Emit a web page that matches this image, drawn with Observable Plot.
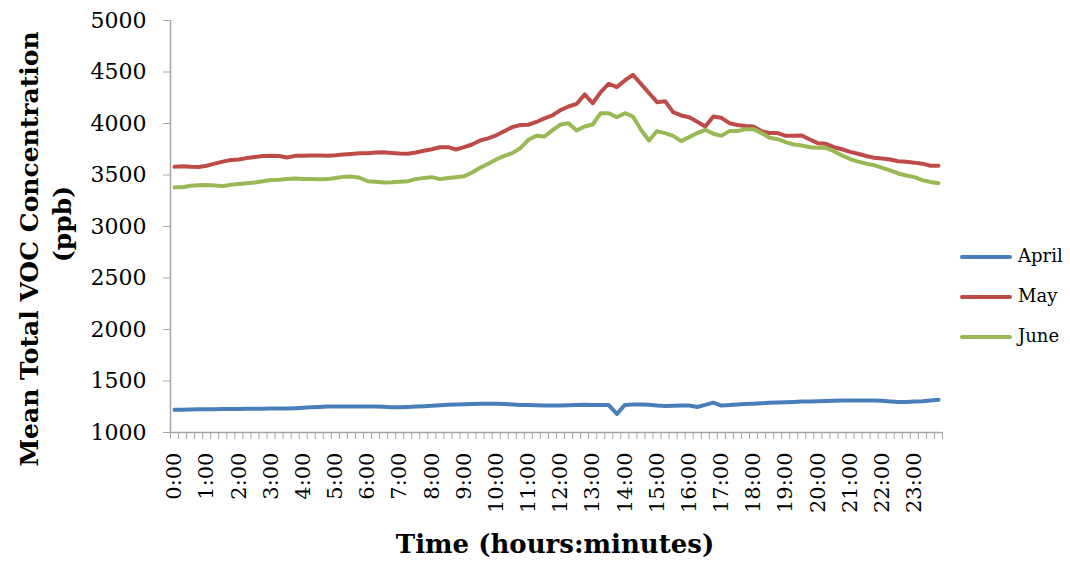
<!DOCTYPE html>
<html>
<head>
<meta charset="utf-8">
<script src="https://cdn.jsdelivr.net/npm/d3@7"></script>
<script src="https://cdn.jsdelivr.net/npm/@observablehq/plot@0.6"></script>
<style>
  html, body { margin: 0; padding: 0; background: #fff; }
  #wrap { position: relative; width: 1070px; height: 563px; font-family: "DejaVu Serif", serif; color: #000; }
  #wrap svg { position: absolute; left: 0; top: 0; }
  .ttl { position: absolute; white-space: nowrap; font-weight: bold; font-size: 25px; line-height: 1; transform: translate(-50%, -50%); }
  .rot { transform: translate(-50%, -50%) rotate(-90deg); }
  .leg { position: absolute; left: 960px; font-size: 18px; line-height: 1; }
  .leg .sw { position: absolute; left: 0; width: 52px; height: 4px; border-radius: 2px; top: -2px; }
  .leg .lb { position: absolute; left: 58px; top: -10px; white-space: nowrap; }
</style>
</head>
<body>
<div id="wrap"></div>
<script>
const times = ["0:00","0:15","0:30","0:45","1:00","1:15","1:30","1:45","2:00","2:15","2:30","2:45",
"3:00","3:15","3:30","3:45","4:00","4:15","4:30","4:45","5:00","5:15","5:30","5:45",
"6:00","6:15","6:30","6:45","7:00","7:15","7:30","7:45","8:00","8:15","8:30","8:45",
"9:00","9:15","9:30","9:45","10:00","10:15","10:30","10:45","11:00","11:15","11:30","11:45",
"12:00","12:15","12:30","12:45","13:00","13:15","13:30","13:45","14:00","14:15","14:30","14:45",
"15:00","15:15","15:30","15:45","16:00","16:15","16:30","16:45","17:00","17:15","17:30","17:45",
"18:00","18:15","18:30","18:45","19:00","19:15","19:30","19:45","20:00","20:15","20:30","20:45",
"21:00","21:15","21:30","21:45","22:00","22:15","22:30","22:45","23:00","23:15","23:30","23:45"];

const april = [1220,1222,1224,1225,1226,1226,1227,1228,1229,1230,1230,1231,1232,1232,1233,1236,1240,1244,1248,1252,
1252,1252,1252,1252,1253,1252,1250,1246,1245,1248,1252,1256,1260,1265,1270,1272,1274,1276,1278,1278,
1278,1276,1272,1268,1268,1265,1262,1262,1263,1265,1268,1270,1268,1268,1266,1180,1268,1272,1272,1270,
1262,1258,1260,1262,1262,1248,1268,1290,1262,1266,1272,1276,1280,1284,1288,1291,1294,1297,1300,1302,
1304,1306,1308,1310,1311,1311,1311,1311,1308,1302,1296,1296,1300,1304,1310,1317];

const may = [3580,3585,3580,3578,3590,3610,3630,3645,3650,3665,3675,3685,3686,3685,3670,3686,3688,3690,3690,3688,
3692,3698,3705,3710,3712,3718,3720,3714,3708,3706,3718,3735,3750,3770,3770,3748,3770,3796,3835,3855,
3885,3925,3965,3985,3988,4015,4050,4080,4130,4165,4190,4282,4197,4304,4386,4353,4418,4473,4385,4296,
4207,4217,4110,4078,4061,4016,3971,4068,4055,4003,3985,3975,3971,3926,3907,3907,3880,3882,3884,3845,
3809,3803,3770,3750,3725,3706,3685,3667,3660,3650,3634,3628,3620,3610,3590,3589];

const june = [3380,3382,3395,3400,3402,3398,3392,3405,3412,3420,3428,3440,3452,3455,3460,3465,3462,3460,3458,3460,
3470,3482,3486,3473,3440,3435,3427,3430,3435,3440,3460,3472,3479,3460,3470,3478,3487,3525,3570,3610,
3650,3686,3712,3760,3842,3880,3874,3935,3990,4003,3932,3971,3990,4100,4100,4061,4100,4068,3939,3835,
3926,3907,3880,3829,3868,3907,3939,3900,3880,3926,3926,3945,3945,3907,3861,3848,3819,3796,3787,3770,
3764,3764,3731,3690,3655,3630,3610,3595,3570,3545,3515,3495,3479,3450,3432,3420];

const months = ["April", "May", "June"];
const monthColors = ["#4A7EBB", "#BE4B48", "#98B954"];
const yTicks = [1000, 1500, 2000, 2500, 3000, 3500, 4000, 4500, 5000];
const hourLabels = ["0:00","1:00","2:00","3:00","4:00","5:00","6:00","7:00","8:00","9:00","10:00","11:00",
"12:00","13:00","14:00","15:00","16:00","17:00","18:00","19:00","20:00","21:00","22:00","23:00"];
const xTitle = "Time (hours:minutes)";
const yTitle = ["Mean Total VOC Concentration", "(ppb)"];

const seriesValues = [april, may, june];
const rows = [];
months.forEach((m, k) => seriesValues[k].forEach((v, i) => rows.push({i, time: times[i], value: v, month: m})));

const xDomain = [-0.5, times.length - 0.5];
const yDomain = [yTicks[0], yTicks[yTicks.length - 1]];
const labelIdx = hourLabels.map(h => times.indexOf(h));
const boundaries = d3.range(times.length + 1).map(k => k - 0.5);
const axisGrey = "#a6a6a6";

const chart = Plot.plot({
  width: 1070, height: 563,
  marginLeft: 170, marginRight: 128, marginTop: 20, marginBottom: 131,
  style: {fontFamily: "DejaVu Serif", fontSize: "21px", color: "#000", background: "transparent", overflow: "visible"},
  x: {domain: xDomain},
  y: {domain: yDomain},
  color: {domain: months, range: monthColors},
  marks: [
    Plot.axisY({ticks: yTicks, tickSize: 7, tickPadding: 17, stroke: axisGrey, fill: "#000", fontSize: 22, label: null, tickFormat: d => String(d)}),
    Plot.axisX({ticks: boundaries, tickSize: 7, stroke: axisGrey, tickFormat: () => "", label: null}),
    Plot.axisX({ticks: labelIdx, tickSize: 0, tickPadding: 20, tickRotate: -90, fill: "#000", tickFormat: i => times[i], label: null}),
    Plot.ruleX([xDomain[0]], {y1: yDomain[0], y2: yDomain[1], stroke: axisGrey, strokeWidth: 1.5}),
    Plot.ruleY([yDomain[0]], {x1: xDomain[0], x2: xDomain[1], stroke: axisGrey, strokeWidth: 1.5}),
    Plot.line(rows, {x: "i", y: "value", z: "month", stroke: "month", strokeWidth: 4, strokeLinejoin: "round", strokeLinecap: "round"})
  ]
});

const wrap = document.getElementById("wrap");
wrap.appendChild(chart);

// axis titles
const yt1 = document.createElement("div");
yt1.className = "ttl rot"; yt1.style.left = "29px"; yt1.style.top = "249px"; yt1.textContent = yTitle[0];
wrap.appendChild(yt1);
const yt2 = document.createElement("div");
yt2.className = "ttl rot"; yt2.style.left = "62px"; yt2.style.top = "224px"; yt2.textContent = yTitle[1];
wrap.appendChild(yt2);
const xt = document.createElement("div");
xt.className = "ttl"; xt.style.left = "555px"; xt.style.top = "544px"; xt.style.fontSize = "26px"; xt.textContent = xTitle;
wrap.appendChild(xt);

// legend
months.forEach((m, k) => {
  const row = document.createElement("div");
  row.className = "leg";
  row.style.top = (257 + 40 * k) + "px";
  row.innerHTML = `<div class="sw" style="background:${monthColors[k]}"></div><div class="lb">${m}</div>`;
  wrap.appendChild(row);
});
</script>
</body>
</html>
